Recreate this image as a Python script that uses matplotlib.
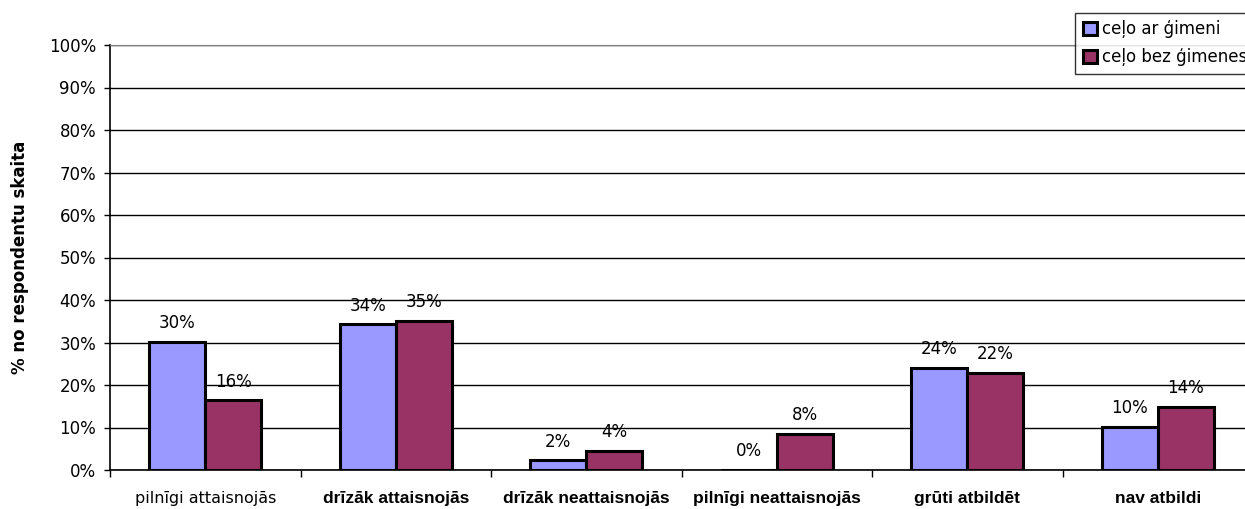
import matplotlib.pyplot as plt
import numpy as np
from matplotlib.ticker import FixedLocator, PercentFormatter

categories = ["pilnīgi attaisnojās", "drīzāk attaisnojās", "drīzāk neattaisnojās",
              "pilnīgi neattaisnojās", "grūti atbildēt", "nav atbildi"]
series_names = ["ceļo ar ģimeni", "ceļo bez ģimenes"]
with_family = [30.1, 34.3, 2.3, 0.0, 24.1, 10.1]
without_family = [16.4, 35.1, 4.5, 8.5, 22.8, 14.8]
with_labels = ["30%", "34%", "2%", "0%", "24%", "10%"]
without_labels = ["16%", "35%", "4%", "8%", "22%", "14%"]

W, H = 1245, 509
fig = plt.figure(figsize=(W / 100, H / 100), dpi=100)
ax = fig.add_axes([110 / W, 39 / H, (1253 - 110) / W, 425 / H])

x = np.arange(len(categories))
bw = 0.295
b1 = ax.bar(x - bw / 2, with_family, bw, color="#9999FF", edgecolor="black",
            linewidth=2.2, label=series_names[0], zorder=3)
b2 = ax.bar(x + bw / 2, without_family, bw, color="#993366", edgecolor="black",
            linewidth=2.2, label=series_names[1], zorder=3)

for bars, labels in ((b1, with_labels), (b2, without_labels)):
    for rect, lab in zip(bars, labels):
        ax.annotate(lab, (rect.get_x() + rect.get_width() / 2, rect.get_height()),
                    xytext=(0, 7), textcoords="offset points", ha="center",
                    va="bottom", fontsize=12, color="black")

ax.set_ylim(0, 100)
ax.set_xlim(-0.5, len(categories) - 0.5)
ax.set_yticks(np.arange(0, 101, 10))
ax.yaxis.set_major_formatter(PercentFormatter(decimals=0))
ax.yaxis.grid(True, color="black", linewidth=1.0, zorder=0)
ax.tick_params(axis="y", direction="out", length=4, width=1, labelsize=12, pad=6)

# category boundaries as ticks, names in the middle
ax.xaxis.set_major_locator(FixedLocator(np.arange(-0.5, len(categories), 1.0)))
ax.xaxis.set_major_formatter(plt.NullFormatter())
ax.set_xticks(x, categories, minor=True)
ax.tick_params(axis="x", which="major", direction="out", length=5, width=1)
ax.tick_params(axis="x", which="minor", length=0, pad=15, labelsize=11.5)
for i, t in enumerate(ax.get_xticklabels(minor=True)):
    if i > 0:
        t.set_fontweight("bold")
        t.set_fontfamily("Liberation Sans")
        t.set_fontsize(12.5)

for s in ("left", "bottom"):
    ax.spines[s].set_color("black")
    ax.spines[s].set_linewidth(1.2)
ax.spines["top"].set_color("#808080")
ax.spines["right"].set_color("#808080")

ax.set_ylabel("% no respondentu skaita", fontsize=12, fontweight="bold", labelpad=14)

fig.legend(loc="upper left", bbox_to_anchor=(1075 / W, 1 - 13 / H), frameon=True,
           fancybox=False, edgecolor="black", fontsize=12, handlelength=0.85,
           handleheight=0.85, handletextpad=0.3, borderpad=0.45, labelspacing=0.6,
           borderaxespad=0)

fig.savefig("out.png", dpi=100)
